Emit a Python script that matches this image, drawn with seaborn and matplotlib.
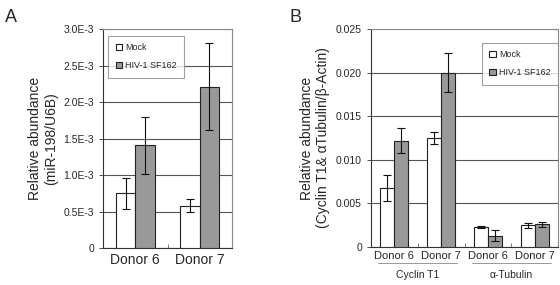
import matplotlib
matplotlib.use("Agg")
import matplotlib.pyplot as plt
import seaborn as sns
import pandas as pd
from matplotlib.ticker import FixedLocator, FuncFormatter

sns.set_style("white")
plt.rcParams['font.family'] = ['Liberation Sans', 'DejaVu Sans']

conditions = ["Mock", "HIV-1 SF162"]
colors = ["#ffffff", "#999999"]

# Panel A
a_donors = ["Donor 6", "Donor 7"]
a_mock = [0.75e-3, 0.58e-3]
a_mock_err = [0.21e-3, 0.09e-3]
a_hiv = [1.41e-3, 2.21e-3]
a_hiv_err = [0.39e-3, 0.60e-3]

# Panel B
b_donors = ["Donor 6", "Donor 7", "Donor 6 ", "Donor 7 "]
b_ticklabels = ["Donor 6", "Donor 7", "Donor 6", "Donor 7"]
b_groups = ["Cyclin T1", "α-Tubulin"]
b_mock = [0.0068, 0.0125, 0.0023, 0.0025]
b_mock_err = [0.0015, 0.0007, 0.0001, 0.0003]
b_hiv = [0.0122, 0.0200, 0.0013, 0.0026]
b_hiv_err = [0.0014, 0.0022, 0.0006, 0.0003]

fig = plt.figure(figsize=(5.6, 2.85), dpi=100)
W, H = 560, 285
def px_axes(x0, y0, x1, y1):
    return fig.add_axes([x0 / W, (H - y1) / H, (x1 - x0) / W, (y1 - y0) / H])

axA = px_axes(103, 29, 232, 248)
axB = px_axes(371, 29, 558, 247)

def draw(ax, donors, mock, mock_err, hiv, hiv_err, loc, anchor, bpad):
    df = pd.DataFrame({
        "donor": donors * 2,
        "cond": [conditions[0]] * len(donors) + [conditions[1]] * len(donors),
        "val": mock + hiv,
        "err": mock_err + hiv_err,
    })
    sns.barplot(data=df, x="donor", y="val", hue="cond", hue_order=conditions,
                palette=colors, width=0.6, errorbar=None, ax=ax,
                edgecolor="#222222", linewidth=0.8, zorder=3)
    bars = list(ax.patches)[:len(df)]
    for p, (_, row) in zip(bars, df.iterrows()):
        ax.errorbar(p.get_x() + p.get_width() / 2, row["val"], yerr=row["err"],
                    fmt="none", ecolor="#111111", elinewidth=0.8, capsize=3,
                    capthick=0.8, zorder=4)
    ax.set_xlabel("")
    ax.grid(axis="y", color="#555555", linewidth=0.8, zorder=0)
    ax.set_axisbelow(True)
    for s in ["top", "right"]:
        ax.spines[s].set_color("#888888")
        ax.spines[s].set_linewidth(0.8)
    for s in ["left", "bottom"]:
        ax.spines[s].set_color("#333333")
        ax.spines[s].set_linewidth(0.8)
    ax.set_xlim(-0.5, len(donors) - 0.5)
    ax.xaxis.set_minor_locator(FixedLocator([i + 0.5 for i in range(len(donors) - 1)]))
    ax.tick_params(axis="x", which="major", length=0)
    ax.tick_params(axis="x", which="minor", direction="in", length=3, width=0.6, color="#666666", bottom=True)
    ax.tick_params(axis="y", which="major", direction="out", length=3, width=0.6, left=True, color="#333333")
    leg = ax.legend(loc=loc, bbox_to_anchor=anchor, borderaxespad=bpad,
                    fontsize=6.5, frameon=True, fancybox=False,
                    handlelength=0.7, handleheight=0.7, handletextpad=0.4,
                    labelspacing=1.0, borderpad=0.8, edgecolor="#888888")
    leg.get_frame().set_linewidth(0.8)
    for h in leg.legend_handles:
        h.set_edgecolor("#222222")
    return leg

draw(axA, a_donors, a_mock, a_mock_err, a_hiv, a_hiv_err, "upper left", (0.02, 0.98), 0.3)
axA.set_ylim(0, 3.0e-3)
axA.yaxis.set_major_locator(FixedLocator([i * 0.5e-3 for i in range(7)]))
axA.yaxis.set_major_formatter(FuncFormatter(lambda v, p: "0" if abs(v) < 1e-9 else f"{v*1e3:.1f}E-3"))
axA.tick_params(axis="y", labelsize=7.5)
axA.tick_params(axis="x", labelsize=10)
axA.set_ylabel("Relative abundance\n(miR-198/U6B)", fontsize=10, labelpad=4)

draw(axB, b_donors, b_mock, b_mock_err, b_hiv, b_hiv_err, "upper right", (1.0, 0.935), 0.0)
axB.set_ylim(0, 0.025)
axB.yaxis.set_major_locator(FixedLocator([i * 0.005 for i in range(6)]))
axB.yaxis.set_major_formatter(FuncFormatter(lambda v, p: "0" if abs(v) < 1e-12 else f"{v:.3f}"))
axB.tick_params(axis="y", labelsize=7.5)
axB.tick_params(axis="x", labelsize=8, pad=3)
axB.set_xticks(range(4))
axB.set_xticklabels(b_ticklabels)
axB.set_ylabel("Relative abundance\n(Cyclin T1& αTubulin/β-Actin)", fontsize=10, labelpad=4)

# group labels
trans = axB.get_xaxis_transform()
for gi, g in enumerate(b_groups):
    x0, x1 = gi * 2 - 0.35, gi * 2 + 1.35
    axB.plot([x0, x1], [-0.075, -0.075], transform=trans, color="#888888",
             linewidth=0.6, clip_on=False)
    axB.text((x0 + x1) / 2, -0.105, g, transform=trans, ha="center", va="top",
             fontsize=7.5)

fig.text(5 / W, 1 - 18 / H, "A", fontsize=13, va="center", ha="left")
fig.text(289 / W, 1 - 18 / H, "B", fontsize=13, va="center", ha="left")

fig.savefig("out.png", dpi=100)
